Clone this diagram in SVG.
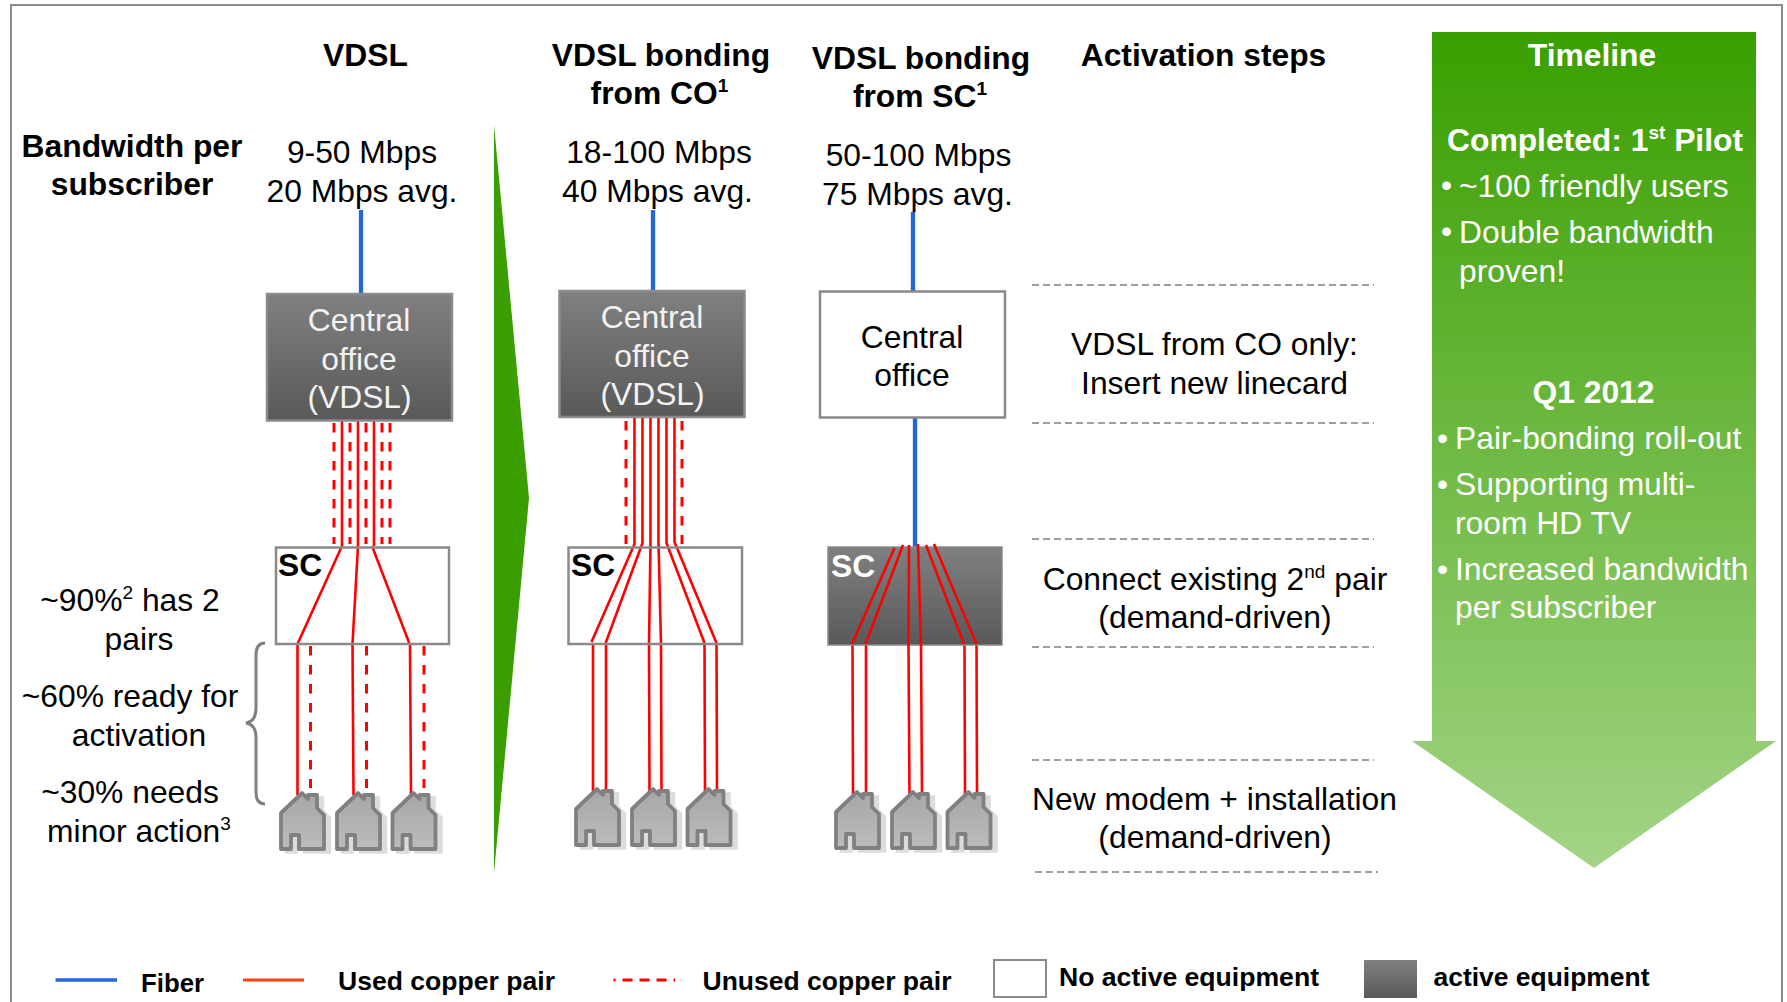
<svg xmlns="http://www.w3.org/2000/svg" width="1787" height="1002" viewBox="0 0 1787 1002">
<style>
text{font-family:"Liberation Sans",Arial,sans-serif;font-size:31.800px;fill:#000}
.b{font-weight:700}
.m{text-anchor:middle}
.w{fill:#fff}
.co{fill:#f2f2f2}
.lg{font-size:26px;font-weight:700}
.s{stroke:#f00;stroke-width:2.600;fill:none}
.d{stroke:#f00;stroke-width:3;fill:none;stroke-dasharray:9.500 9.500}
.f{stroke:#2468d8;stroke-width:4.300;fill:none}
.g{stroke:#808080;stroke-width:1.600;fill:none;stroke-dasharray:7 4}
.box{stroke:#8a8a8a;stroke-width:2.500}
</style>
<defs>
<linearGradient id="dark" x1="0" y1="0" x2="0" y2="1"><stop offset="0" stop-color="#808080"/><stop offset="1" stop-color="#595959"/></linearGradient>
<linearGradient id="green" x1="0" y1="0" x2="0" y2="1"><stop offset="0" stop-color="#399f00"/><stop offset="1" stop-color="#a3d486"/></linearGradient>
<linearGradient id="hs" x1="0" y1="0" x2="0" y2="1"><stop offset="0" stop-color="#a6a6a6"/><stop offset="1" stop-color="#bcbcbc"/></linearGradient>
<g id="house">
<path d="M0 20 L21 0 L27 6 L27 2 L36 2 L36 15 L43 22 L43 56 L18 56 L18 42 L10 42 L10 56 L0 56 Z" transform="translate(5.500 3)" fill="#dcdcdc" stroke="#dcdcdc" stroke-width="3.500"/>
<path d="M0 20 L21 0 L27 6 L27 2 L36 2 L36 15 L43 22 L43 56 L18 56 L18 42 L10 42 L10 56 L0 56 Z" fill="url(#hs)" stroke="#808080" stroke-width="3.800" stroke-linejoin="round"/>
</g>
</defs>
<rect width="1787" height="1002" fill="#fff"/>
<path id="frame" d="M11 1002 V5 H1782 V1002" fill="none" stroke="#8c8c8c" stroke-width="2"/>
<path id="transition-arrow" d="M494 125 L529 498 L494 873 Z" fill="#3a9e00"/>
<g id="connectors">
<path class="f" d="M361 210V293M653 210V290M913 212V291M915 418V547"/>
<path class="d" d="M334 423V544M350 423V544M366 423V544M382 423V544M390 423V544"/>
<path class="s" d="M342 421V546L297.500 644V795M358 421V546L352.500 644L353.500 795M374 421V546M372 546L410 645L411 795"/>
<path class="d" d="M310.500 646V788M366.500 646V788M424 646V788"/>
<path class="d" d="M626 421V544M682 421V544"/>
<path class="s" d="M634.500 417V544L591.500 642M593 644V791M642.500 417V543L606 642V791M650.500 417V543L649 644L649.500 791M658.500 417V543L661 644L661.500 791M666.500 417V543L704.500 643L705 791M674.500 417V542L716.500 643L717 791"/>
<path class="s" d="M852.500 644L853 795M866 644V795M908.500 646L909.500 795M921 646L922 795M964.500 644L965 795M976.500 644L977 795"/>
<path id="brace" d="M265 643 C258 643 256 648 256 655 V708 C256 717 253 722 246 723 C253 724 256 729 256 738 V792 C256 799 258 804 265 804" fill="none" stroke="#808080" stroke-width="3"/>
<path class="g" d="M1032 285H1374M1032 423H1374M1032 539H1374M1032 647H1374M1032 760H1374M1035 872H1378"/>
</g>
<g id="header-labels">
<text class="b m" x="365.500" y="66">VDSL</text>
<text class="b m" x="661" y="66">VDSL bonding</text>
<text class="b m" x="659.500" y="104">from CO<tspan font-size="19" dy="-12">1</tspan></text>
<text class="b m" x="921" y="69">VDSL bonding</text>
<text class="b m" x="920" y="107">from SC<tspan font-size="19" dy="-12">1</tspan></text>
<text class="b m" x="1203.500" y="66">Activation steps</text>
<text class="b m" x="132" y="157">Bandwidth per</text>
<text class="b m" x="132" y="195">subscriber</text>
</g>
<g id="bandwidth-labels">
<text class="m" x="362" y="163">9-50 Mbps</text>
<text class="m" x="362" y="202">20 Mbps avg.</text>
<text class="m" x="659" y="163">18-100 Mbps</text>
<text class="m" x="657.500" y="202">40 Mbps avg.</text>
<text class="m" x="918.500" y="166">50-100 Mbps</text>
<text class="m" x="917.500" y="205">75 Mbps avg.</text>
</g>
<g id="co-vdsl">
<rect class="box" x="267" y="294" width="185" height="126.500" fill="url(#dark)"/>
<text class="m co" x="359" y="331">Central</text>
<text class="m co" x="359" y="370">office</text>
<text class="m co" x="359.500" y="408">(VDSL)</text>
</g>
<g id="co-bonding">
<rect class="box" x="559.500" y="291" width="185" height="126" fill="url(#dark)"/>
<text class="m co" x="652" y="328">Central</text>
<text class="m co" x="652" y="367">office</text>
<text class="m co" x="652.500" y="405">(VDSL)</text>
</g>
<g id="co-sc">
<rect class="box" x="820" y="291.500" width="185" height="126" fill="#fff"/>
<text class="m" x="912" y="348">Central</text>
<text class="m" x="912" y="386">office</text>
</g>
<g id="sc-vdsl">
<rect class="box" x="276" y="547.500" width="173" height="96.500" fill="none"/>
<text class="b" x="278" y="576">SC</text>
</g>
<g id="sc-bonding">
<rect class="box" x="568.500" y="547.500" width="173.500" height="96.500" fill="none"/>
<text class="b" x="571" y="576">SC</text>
</g>
<g id="sc-sc">
<rect x="828" y="547" width="174" height="98" fill="url(#dark)" stroke="#8a8a8a" stroke-width="1.500"/>
<text class="b w" x="831" y="577">SC</text>
<path class="s" d="M894.500 548L852 644M903 545L865.500 644M909 545L908.500 646M918 544L921 646M926 545L964 644M934 544L976.500 644"/>
</g>
<g id="houses-vdsl">
<use href="#house" x="281" y="793"/><use href="#house" x="337" y="793"/><use href="#house" x="392.500" y="793"/>
</g>
<g id="houses-bonding">
<use href="#house" x="576" y="789"/><use href="#house" x="632" y="789"/><use href="#house" x="687.500" y="789"/>
</g>
<g id="houses-sc">
<use href="#house" x="836" y="792"/><use href="#house" x="892" y="792"/><use href="#house" x="947.500" y="792"/>
</g>
<g id="left-notes">
<text class="m" x="130" y="611">~90%<tspan font-size="19" dy="-12">2</tspan><tspan dy="12"> has 2</tspan></text>
<text class="m" x="139" y="650">pairs</text>
<text class="m" x="130" y="707">~60% ready for</text>
<text class="m" x="139" y="746">activation</text>
<text class="m" x="130" y="803">~30% needs</text>
<text class="m" x="139" y="842">minor action<tspan font-size="19" dy="-12">3</tspan></text>
</g>
<g id="activation-steps">
<text class="m" x="1214.500" y="355">VDSL from CO only:</text>
<text class="m" x="1214.500" y="394">Insert new linecard</text>
<text class="m" x="1215" y="590">Connect existing 2<tspan font-size="19" dy="-12">nd</tspan><tspan dy="12"> pair</tspan></text>
<text class="m" x="1215" y="628">(demand-driven)</text>
<text class="m" x="1214.500" y="810">New modem + installation</text>
<text class="m" x="1215" y="848">(demand-driven)</text>
</g>
<g id="timeline">
<path d="M1432 32 H1756 V741 H1776 L1594 868 L1412 741 H1432 Z" fill="url(#green)"/>
<text class="b m w" x="1592" y="66">Timeline</text>
<text class="b w" x="1447" y="151">Completed: 1<tspan font-size="19" dy="-12">st</tspan><tspan dy="12"> Pilot</tspan></text>
<text class="w" x="1441" y="196">•</text><text class="w" x="1459" y="197">~100 friendly users</text>
<text class="w" x="1441" y="242">•</text><text class="w" x="1459" y="243">Double bandwidth</text>
<text class="w" x="1459" y="282">proven!</text>
<text class="b m w" x="1593.500" y="403">Q1 2012</text>
<text class="w" x="1437" y="449">•</text><text class="w" x="1455" y="449">Pair-bonding roll-out</text>
<text class="w" x="1437" y="495">•</text><text class="w" x="1455" y="495">Supporting multi-</text>
<text class="w" x="1455" y="534">room HD TV</text>
<text class="w" x="1437" y="580">•</text><text class="w" x="1455" y="580">Increased bandwidth</text>
<text class="w" x="1455" y="618">per subscriber</text>
</g>
<g id="legend">
<path d="M55.500 980H117" stroke="#2468d8" stroke-width="3.500"/>
<text class="lg" x="141" y="992" textLength="63" lengthAdjust="spacingAndGlyphs">Fiber</text>
<path d="M243 980H304" stroke="#ff4010" stroke-width="3"/>
<text class="lg" x="338" y="990" textLength="217" lengthAdjust="spacingAndGlyphs">Used copper pair</text>
<path d="M613.500 980H675" stroke="#f00" stroke-width="3" stroke-dasharray="10 7" stroke-dashoffset="8"/>
<text class="lg" x="702.500" y="990" textLength="249" lengthAdjust="spacingAndGlyphs">Unused copper pair</text>
<rect x="994" y="960" width="52" height="37" fill="#fff" stroke="#8a8a8a" stroke-width="2"/>
<text class="lg" x="1059" y="986" textLength="260" lengthAdjust="spacingAndGlyphs">No active equipment</text>
<rect x="1364" y="960" width="53" height="38" fill="url(#dark)"/>
<text class="lg" x="1433.500" y="986" textLength="216" lengthAdjust="spacingAndGlyphs">active equipment</text>
</g>
</svg>
